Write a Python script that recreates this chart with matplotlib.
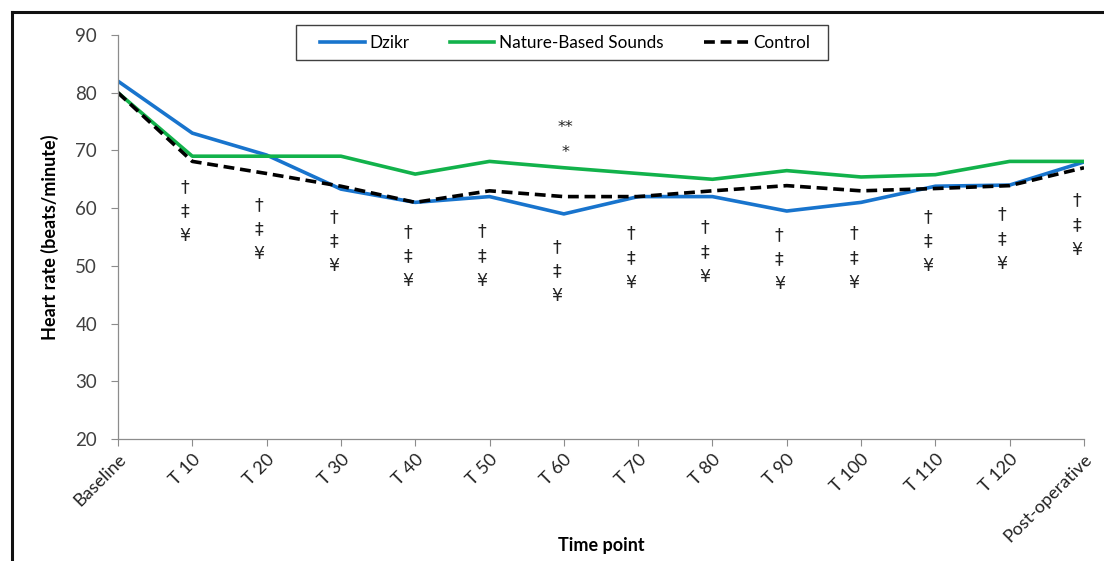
import matplotlib
matplotlib.use("Agg")
import matplotlib.pyplot as plt
from matplotlib.lines import Line2D
from matplotlib.patches import Rectangle

plt.rcParams['font.family'] = ['Lato', 'DejaVu Sans']

time_points = ["Baseline", "T 10", "T 20", "T 30", "T 40", "T 50", "T 60", "T 70",
               "T 80", "T 90", "T 100", "T 110", "T 120", "Post-operative"]
dzikr = [82, 73, 69.2, 63.3, 61, 62, 59, 62, 62, 59.5, 61, 63.8, 64, 68]
nature = [80, 69, 69, 69, 65.9, 68.1, 67, 66, 65, 66.5, 65.4, 65.8, 68.1, 68.1]
control = [80, 68.1, 66, 63.8, 61, 63, 62, 62, 63, 63.9, 63, 63.4, 63.9, 67]

# significance symbol positions (value of the top "†" for each time point, None = none)
sig_top = [None, 63.7, 60.6, 58.5, 55.9, 56.0, 53.3, 55.7, 56.7, 55.4, 55.7, 58.5, 59.0, 61.4]
sig_symbols = ["†", "‡", "¥"]
star_labels = ["**", "*"]
star_values = [73.9, 69.7]
star_index = 6

fig = plt.figure(figsize=(11.04, 5.61), dpi=100)
ax = fig.add_axes([118/1104, 1-439/561, (1084-118)/1104, (439-35)/561])

x = list(range(len(time_points)))
ax.plot(x, dzikr, color="#1874CD", lw=2.6, label="Dzikr")
ax.plot(x, nature, color="#12B24B", lw=2.6, label="Nature-Based Sounds")
ax.plot(x, control, color="black", lw=2.6, ls=(0, (3, 1.6)), label="Control")

ax.set_xlim(0, len(time_points) - 1)
ax.set_ylim(20, 90)
ax.set_yticks(range(20, 91, 10))
ax.set_xticks(x)
ax.set_xticklabels(time_points, rotation=45, ha="right", rotation_mode="anchor",
                   fontsize=13, color="#222222")
ax.tick_params(axis="y", labelsize=13.5, labelcolor="#404040", length=5, width=0.8,
               direction="out", pad=10, color="#8c8c8c")
ax.tick_params(axis="x", length=5, width=0.8, color="#8c8c8c", direction="out", pad=4)
for s in ["top", "right"]:
    ax.spines[s].set_visible(False)
for s in ["left", "bottom"]:
    ax.spines[s].set_color("#8c8c8c")
    ax.spines[s].set_linewidth(0.9)

ax.set_ylabel("Heart rate (beats/minute)", fontsize=13, fontweight="bold", labelpad=12)
fig.text(601/1104, 1-545/561, "Time point", ha="center", va="center",
         fontsize=13, fontweight="bold")

step = 4.3
for i, top in enumerate(sig_top):
    if top is None:
        continue
    for k, sym in enumerate(sig_symbols):
        ax.text(i - 0.1, top - k * step, sym, ha="center", va="center",
                fontsize=12.5, color="#222222", family=["DejaVu Sans"])
for lab, v in zip(star_labels, star_values):
    ax.text(star_index + 0.02, v, lab, ha="center", va="center", fontsize=11.5,
            color="#222222", family=["DejaVu Sans"])

leg = fig.legend(loc="center", bbox_to_anchor=(565/1104, 1-42.5/561),
                 ncol=3, frameon=False, fontsize=12.3, handlelength=2.6,
                 columnspacing=2.4, handletextpad=0.25)
fig.add_artist(Rectangle((296/1104, 1-60/561), (828-296)/1104, 35/561,
                         transform=fig.transFigure, fill=False,
                         edgecolor="#404040", lw=1.0))

# outer chart border (top and left edges visible)
fig.add_artist(Line2D([12/1104, 1.0], [1-11.5/561, 1-11.5/561], transform=fig.transFigure,
                      color="#111111", lw=2.2))
fig.add_artist(Line2D([12/1104, 12/1104], [0, 1-11.5/561], transform=fig.transFigure,
                      color="#111111", lw=2.2))

fig.savefig("out.png", dpi=100)
